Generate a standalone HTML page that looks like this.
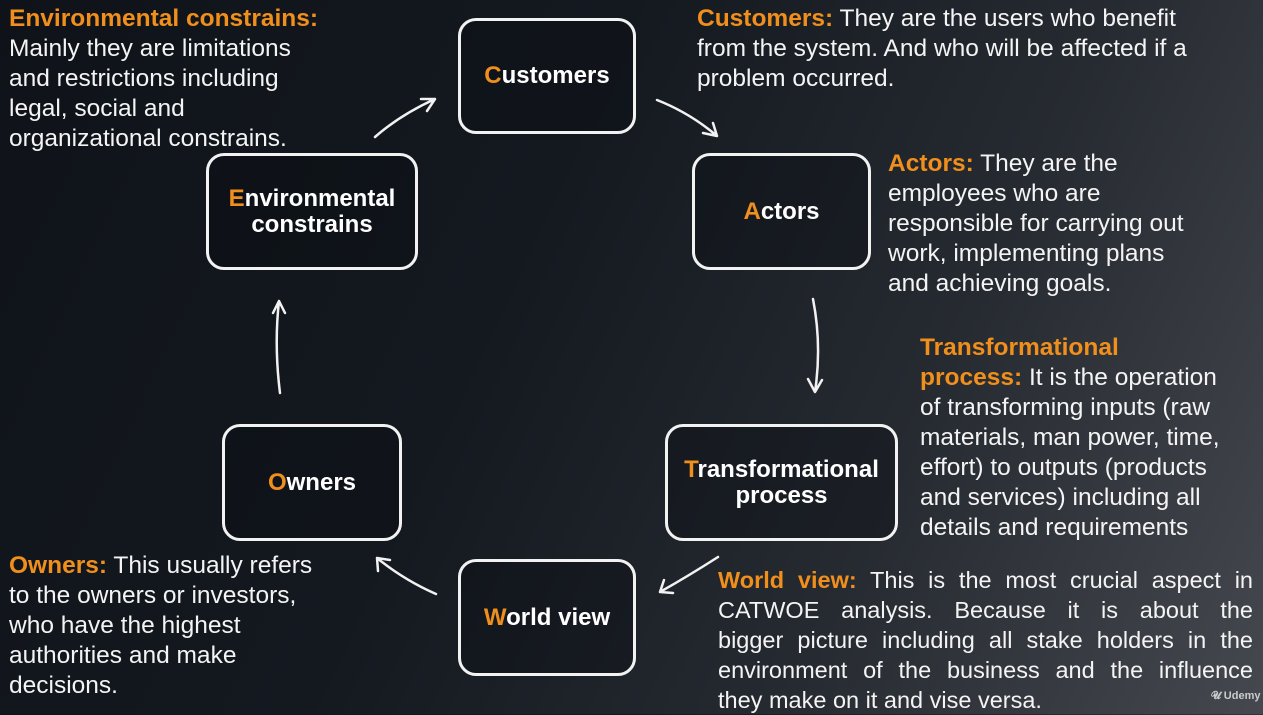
<!DOCTYPE html>
<html><head><meta charset="utf-8"><style>
html,body{margin:0;padding:0}
body{width:1263px;height:714px;overflow:hidden;position:relative;
background:linear-gradient(115deg,#0f1319 0%,#141920 40%,#262a31 70%,#45484f 100%);
font-family:"Liberation Sans",Arial,sans-serif;color:#fff}
.t{position:absolute;font-size:24.5px;line-height:30px;color:#f4f4f4}
.o{color:#f08f1c;font-weight:bold}
.b{position:absolute;border:3px solid #f2f2f2;border-radius:18px;box-sizing:border-box;
display:flex;align-items:center;justify-content:center;text-align:center;font-weight:bold;font-size:24px;line-height:26px;background:rgba(10,12,16,0.35)}
.b span{color:#f08f1c}
svg{position:absolute;left:0;top:0}
</style></head><body>
<div class="b" style="left:458px;top:18px;width:178px;height:116px"><div><span>C</span>ustomers</div></div>
<div class="b" style="left:692px;top:153px;width:179px;height:117px"><div><span>A</span>ctors</div></div>
<div class="b" style="left:665px;top:424px;width:233px;height:117px"><div><span>T</span>ransformational<br>process</div></div>
<div class="b" style="left:458px;top:559px;width:178px;height:117px"><div><span>W</span>orld view</div></div>
<div class="b" style="left:222px;top:424px;width:180px;height:117px"><div><span>O</span>wners</div></div>
<div class="b" style="left:206px;top:153px;width:212px;height:117px"><div><span>E</span>nvironmental<br>constrains</div></div>

<div class="t" style="left:9px;top:4px;width:360px"><span class="o">Environmental constrains:</span><br>Mainly they are limitations<br>and restrictions including<br>legal, social and<br>organizational constrains.</div>
<div class="t" style="left:697px;top:4px;width:560px"><span class="o">Customers:</span> They are the users who benefit<br>from the system. And who will be affected if a<br>problem occurred.</div>
<div class="t" style="left:888px;top:149px;width:370px"><span class="o">Actors:</span> They are the<br>employees who are<br>responsible for carrying out<br>work, implementing plans<br>and achieving goals.</div>
<div class="t" style="left:920px;top:333px;width:340px"><span class="o">Transformational<br>process:</span> It is the operation<br>of transforming inputs (raw<br>materials, man power, time,<br>effort) to outputs (products<br>and services) including all<br>details and requirements</div>
<div class="t" style="left:718px;top:565px;width:535px;text-align:justify;text-align-last:justify;font-size:23.5px">
<div><span class="o">World view:</span> This is the most crucial aspect in</div>
<div>CATWOE analysis. Because it is about the</div>
<div>bigger picture including all stake holders in the</div>
<div>environment of the business and the influence</div>
<div style="text-align-last:left">they make on it and vise versa.</div></div>
<div class="t" style="left:9px;top:551px;width:340px"><span class="o">Owners:</span> This usually refers<br>to the owners or investors,<br>who have the highest<br>authorities and make<br>decisions.</div>
<div style="position:absolute;left:1211px;top:690px;font-size:11px;color:#ccc;font-weight:bold">𝓤 Udemy</div>

<svg width="1263" height="714" fill="none" stroke="#f2f2f2" stroke-width="2.5" stroke-linecap="round" stroke-linejoin="round">
<path d="M375 137 Q400 115 435 99 M421 99 L435 99 L427 111"/>
<path d="M657 100 Q690 113 717 136 M703 133 L717 136 L713 123"/>
<path d="M813 299 Q822 345 815 392 M808 379 L815 392 L822 380"/>
<path d="M718 557 Q690 575 660 592 M664 580 L660 592 L673 593"/>
<path d="M436 594 Q404 580 377 558 M378 571 L377 558 L390 560"/>
<path d="M280 393 Q274 345 279 301 M273 313 L279 301 L285 313"/>
</svg>
</body></html>
